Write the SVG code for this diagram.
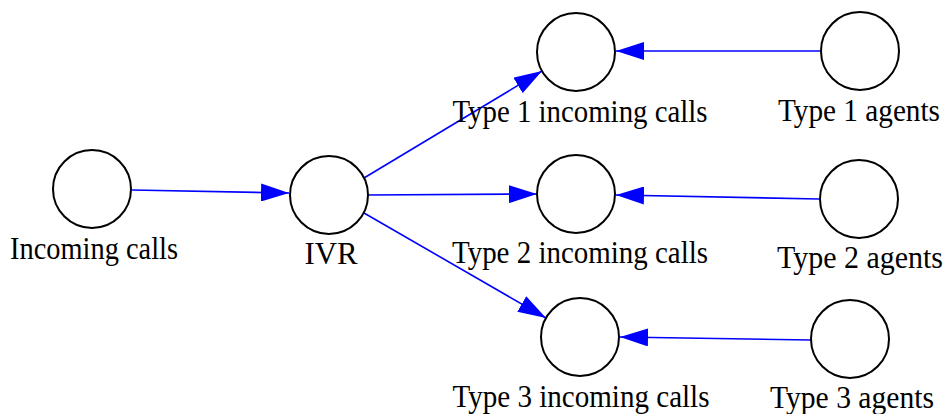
<svg xmlns="http://www.w3.org/2000/svg" width="950" height="414" viewBox="0 0 950 414">
  <style>
    .node circle { fill: #ffffff; stroke: #000000; stroke-width: 2; }
    .node text { font-family: "Liberation Serif", "Times New Roman", serif; font-size: 31px; fill: #000000; text-anchor: middle; }
    .edge { fill: none; stroke: #0000ff; stroke-width: 1.6; marker-end: url(#arrow); }
  </style>
  <defs>
    <marker id="arrow" markerUnits="userSpaceOnUse" markerWidth="28" markerHeight="18" refX="28" refY="9" orient="auto">
      <path d="M0,0 L28,9 L0,18 Z" fill="#0000ff"/>
    </marker>
  </defs>
  <rect width="950" height="414" fill="#ffffff"/>

  <g id="edges">
    <path class="edge" d="M132,190 L289,193"/>
    <path class="edge" d="M364,178 L542,71"/>
    <path class="edge" d="M368,195 L537,194"/>
    <path class="edge" d="M364,213 L546,318"/>
    <path class="edge" d="M821,51 L616,51"/>
    <path class="edge" d="M819,199 L616,195"/>
    <path class="edge" d="M811,340 L620,337"/>
  </g>

  <g id="incoming-calls" class="node">
    <circle cx="92" cy="189" r="39"/>
    <text x="94" y="259" textLength="168" lengthAdjust="spacingAndGlyphs">Incoming calls</text>
  </g>
  <g id="ivr" class="node">
    <circle cx="329" cy="195" r="39"/>
    <text x="331" y="264" textLength="53" lengthAdjust="spacingAndGlyphs">IVR</text>
  </g>
  <g id="type1-incoming" class="node">
    <circle cx="576" cy="52" r="39"/>
    <text x="580" y="122" textLength="255" lengthAdjust="spacingAndGlyphs">Type 1 incoming calls</text>
  </g>
  <g id="type2-incoming" class="node">
    <circle cx="576" cy="194" r="39"/>
    <text x="580" y="263" textLength="256" lengthAdjust="spacingAndGlyphs">Type 2 incoming calls</text>
  </g>
  <g id="type3-incoming" class="node">
    <circle cx="580" cy="337" r="39"/>
    <text x="581" y="407" textLength="257" lengthAdjust="spacingAndGlyphs">Type 3 incoming calls</text>
  </g>
  <g id="type1-agents" class="node">
    <circle cx="860" cy="51" r="39"/>
    <text x="859" y="121" textLength="162" lengthAdjust="spacingAndGlyphs">Type 1 agents</text>
  </g>
  <g id="type2-agents" class="node">
    <circle cx="859" cy="199" r="39"/>
    <text x="860" y="268" textLength="166" lengthAdjust="spacingAndGlyphs">Type 2 agents</text>
  </g>
  <g id="type3-agents" class="node">
    <circle cx="850" cy="339" r="39"/>
    <text x="852" y="408" textLength="164" lengthAdjust="spacingAndGlyphs">Type 3 agents</text>
  </g>
</svg>
